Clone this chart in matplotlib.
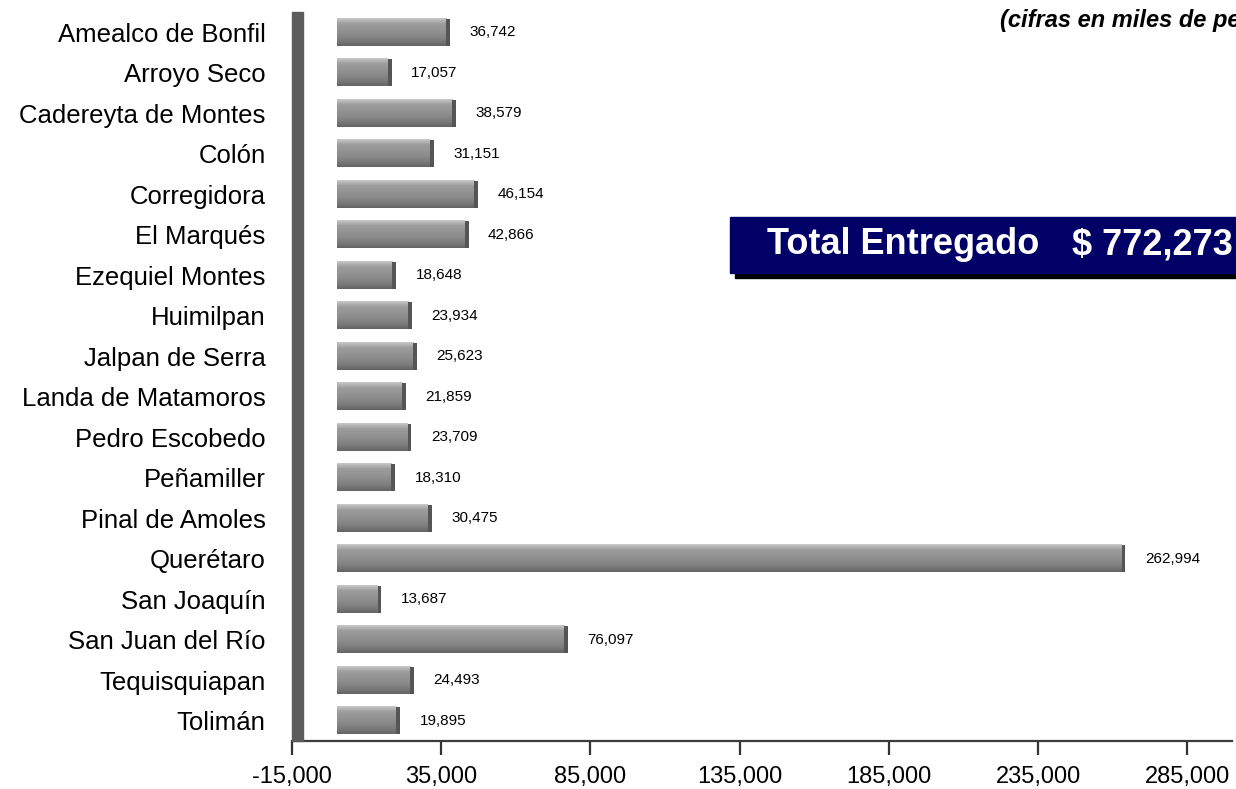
import numpy as np
import matplotlib
matplotlib.use("Agg")
import matplotlib.pyplot as plt
from matplotlib.colors import LinearSegmentedColormap
from matplotlib.patches import Rectangle
from matplotlib.ticker import FuncFormatter

plt.rcParams['font.family'] = ['Liberation Sans', 'DejaVu Sans']

# data
municipios = ["Amealco de Bonfil", "Arroyo Seco", "Cadereyta de Montes", "Colón",
              "Corregidora", "El Marqués", "Ezequiel Montes", "Huimilpan",
              "Jalpan de Serra", "Landa de Matamoros", "Pedro Escobedo", "Peñamiller",
              "Pinal de Amoles", "Querétaro", "San Joaquín", "San Juan del Río",
              "Tequisquiapan", "Tolimán"]
montos = [36742, 17057, 38579, 31151, 46154, 42866, 18648, 23934, 25623,
          21859, 23709, 18310, 30475, 262994, 13687, 76097, 24493, 19895]
xticks = [-15000, 35000, 85000, 135000, 185000, 235000, 285000]
total_txt = "$ 772,273"
subtitulo = "(cifras en miles de pesos)"

W, H = 1236, 789
fig = plt.figure(figsize=(W / 100, H / 100), dpi=100)
ax = fig.add_axes([292 / W, 1 - 741 / H, (1232 - 292) / W, (741 - 12) / H])

# bar gradient (3D look)
cmap = LinearSegmentedColormap.from_list("bar", ["#c8c8c8", "#9c9c9c", "#949494",
                                                 "#8a8a8a", "#7c7c7c", "#646464"])
grad = np.linspace(0, 1, 64).reshape(-1, 1)
h = 0.67
cap = 1300
for i, v in enumerate(montos):
    ax.imshow(grad, cmap=cmap, aspect='auto', interpolation='bilinear',
              extent=(0, v, i + h / 2, i - h / 2), zorder=2)
    ax.barh(i, cap, left=v, height=h, color="#555555", zorder=2)
    ax.annotate(f"{v:,}", (v + cap, i), xytext=(14, 0), textcoords='offset points',
                va='center', ha='left', fontsize=11, color='black')

ax.set_xlim(-15000, 300000)
ax.set_ylim(len(municipios) - 0.5, -0.5)

ax.set_yticks(range(len(municipios)))
ax.set_yticklabels(municipios, fontsize=18.5)
ax.tick_params(axis='y', length=0, pad=19)

ax.set_xticks(xticks)
ax.xaxis.set_major_formatter(FuncFormatter(lambda x, p: f"{x:,.0f}"))
ax.tick_params(axis='x', length=10, width=1.6, color='#333333', pad=8,
               labelsize=17, labelcolor='black')

for s in ['top', 'right', 'left']:
    ax.spines[s].set_visible(False)
ax.spines['bottom'].set_color('#3c3c3c')
ax.spines['bottom'].set_linewidth(1.6)

# left wall
ax.add_patch(Rectangle((0, 0), 11 / 940, 1, transform=ax.transAxes,
                       color='#5c5c5c', zorder=3, clip_on=False))

# total box
fig.patches.append(Rectangle((735 / W, 1 - 278 / H), (W - 735) / W, 56 / H,
                             transform=fig.transFigure, color='black', zorder=4))
fig.patches.append(Rectangle((730 / W, 1 - 273 / H), (W - 730) / W, 56 / H,
                             transform=fig.transFigure, color='#000066', zorder=5))
fig.text(767 / W, 1 - 245 / H, "Total Entregado", color='white', fontsize=26,
         fontweight='bold', va='center', ha='left', zorder=6)
fig.text(1072 / W, 1 - 245 / H, total_txt, color='white', fontsize=26,
         fontweight='bold', va='center', ha='left', zorder=6)

# subtitle runs off the right edge, as in the original
fig.text(1000 / W, 1 - 27 / H, subtitulo, fontsize=17, fontweight='bold',
         fontstyle='italic', va='baseline', ha='left')

fig.savefig("out.png", dpi=100)
